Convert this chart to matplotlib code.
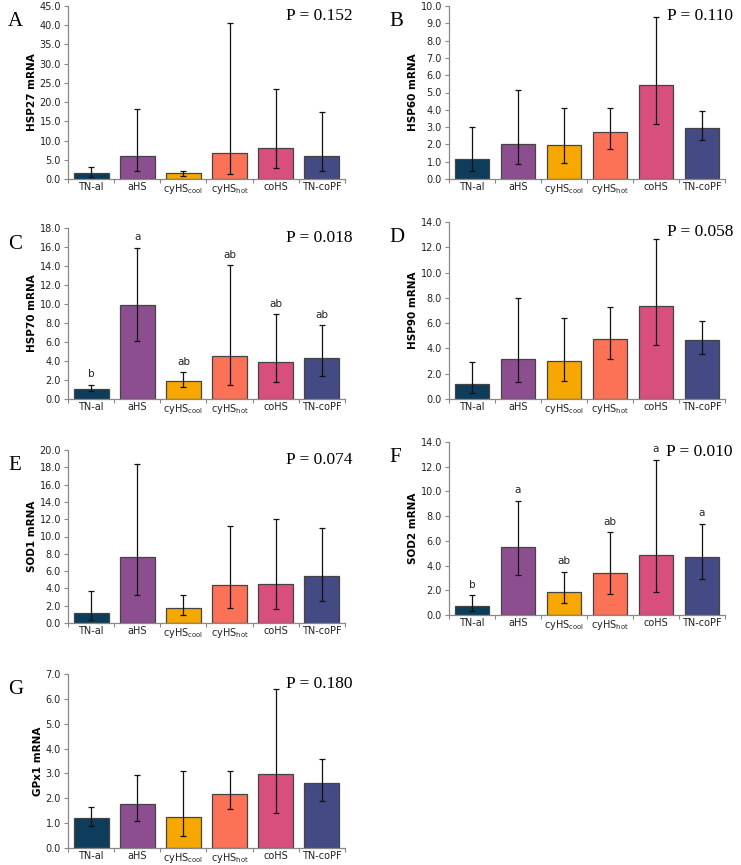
import matplotlib.pyplot as plt
import numpy as np

# groups and colours
groups = ['TN-al', 'aHS', r'cyHS$_{\mathregular{cool}}$', r'cyHS$_{\mathregular{hot}}$', 'coHS', 'TN-coPF']
colors = ['#0d3d5a', '#8d4e90', '#f6a700', '#fc7257', '#d84f7d', '#434a84']

# means, error bar lower ends, error bar upper ends
hsp27 = [1.6, 6.1, 1.5, 6.7, 8.0, 6.0]
hsp27_lo = [0.6, 2.0, 0.9, 1.2, 2.8, 2.0]
hsp27_hi = [3.0, 18.2, 2.2, 40.5, 23.3, 17.5]

hsp60 = [1.18, 2.04, 1.95, 2.70, 5.41, 2.97]
hsp60_lo = [0.46, 0.85, 0.92, 1.73, 3.16, 2.25]
hsp60_hi = [3.00, 5.16, 4.10, 4.10, 9.36, 3.93]

hsp70 = [1.08, 9.90, 1.89, 4.55, 3.92, 4.34]
hsp70_lo = [0.80, 6.15, 1.26, 1.43, 1.75, 2.38]
hsp70_hi = [1.47, 15.90, 2.80, 14.06, 8.90, 7.76]
hsp70_letters = ['b', 'a', 'ab', 'ab', 'ab', 'ab']

hsp90 = [1.16, 3.15, 3.02, 4.75, 7.33, 4.68]
hsp90_lo = [0.50, 1.31, 1.42, 3.15, 4.28, 3.57]
hsp90_hi = [2.92, 7.99, 6.41, 7.30, 12.63, 6.15]

sod1 = [1.16, 7.68, 1.74, 4.40, 4.48, 5.44]
sod1_lo = [0.30, 3.20, 0.97, 1.70, 1.62, 2.59]
sod1_hi = [3.70, 18.38, 3.24, 11.27, 11.97, 11.04]

sod2 = [0.73, 5.47, 1.83, 3.37, 4.87, 4.66]
sod2_lo = [0.30, 3.23, 0.97, 1.70, 1.88, 2.93]
sod2_hi = [1.59, 9.26, 3.50, 6.68, 12.57, 7.38]
sod2_letters = ['b', 'a', 'ab', 'ab', 'a', 'a']

gpx1 = [1.19, 1.77, 1.23, 2.18, 2.99, 2.61]
gpx1_lo = [0.87, 1.07, 0.47, 1.55, 1.41, 1.91]
gpx1_hi = [1.65, 2.92, 3.09, 3.09, 6.39, 3.57]

W, H = 741, 865
fig = plt.figure(figsize=(W / 100, H / 100), dpi=100)

# panel: (letter, ylabel, means, lo, hi, ymax, ystep, p, letters, axes box in px: left, top, right, bottom)
panels = [
    ('A', 'HSP27 mRNA', hsp27, hsp27_lo, hsp27_hi, 45, 5, '0.152', None, (68, 6, 345, 179)),
    ('B', 'HSP60 mRNA', hsp60, hsp60_lo, hsp60_hi, 10, 1, '0.110', None, (449, 6, 725, 179)),
    ('C', 'HSP70 mRNA', hsp70, hsp70_lo, hsp70_hi, 18, 2, '0.018', hsp70_letters, (68, 228, 345, 399)),
    ('D', 'HSP90 mRNA', hsp90, hsp90_lo, hsp90_hi, 14, 2, '0.058', None, (449, 222, 725, 399)),
    ('E', 'SOD1 mRNA', sod1, sod1_lo, sod1_hi, 20, 2, '0.074', None, (68, 450, 345, 623)),
    ('F', 'SOD2 mRNA', sod2, sod2_lo, sod2_hi, 14, 2, '0.010', sod2_letters, (449, 442, 725, 615)),
    ('G', 'GPx1 mRNA', gpx1, gpx1_lo, gpx1_hi, 7, 1, '0.180', None, (68, 674, 345, 848)),
]

x = np.arange(len(groups))
for letter, ylab, m, lo, hi, ymax, ystep, p, sig, box in panels:
    l, t, r, b = box
    ax = fig.add_axes([l / W, 1 - b / H, (r - l) / W, (b - t) / H])
    m = np.array(m)
    yerr = [m - np.array(lo), np.array(hi) - m]
    ax.bar(x, m, width=0.76, color=colors, edgecolor='#444444', linewidth=0.9, zorder=2)
    ax.errorbar(x, m, yerr=yerr, fmt='none', ecolor='#111111', elinewidth=0.9,
                capsize=2.2, capthick=0.9, zorder=3)
    ax.set_xlim(-0.5, len(groups) - 0.5)
    ax.set_ylim(0, ymax)
    ticks = np.arange(0, ymax + 0.01, ystep)
    ax.set_yticks(ticks)
    ax.set_yticklabels([f'{v:.1f}' for v in ticks])
    ax.set_xticks(x)
    ax.set_xticklabels(groups)
    ax.set_xticks(np.arange(-0.5, len(groups)), minor=True)
    ax.tick_params(axis='x', which='major', length=0, labelsize=7, pad=2.5, colors='#222222')
    ax.tick_params(axis='x', which='minor', length=3, width=0.8, color='#888888')
    ax.tick_params(axis='y', length=3, width=0.8, color='#888888', labelsize=7, pad=2, labelcolor='#222222')
    for s in ['top', 'right']:
        ax.spines[s].set_visible(False)
    for s in ['left', 'bottom']:
        ax.spines[s].set_color('#888888')
        ax.spines[s].set_linewidth(0.9)
    ax.set_ylabel(ylab, fontsize=7.5, fontweight='bold', labelpad=2)
    if sig is not None:
        for xi, h, s in zip(x, hi, sig):
            ax.annotate(s, (xi, h), xytext=(0, 4), textcoords='offset points',
                        ha='center', va='bottom', fontsize=7.5, color='#222222')
    fig.text((l - 60) / W, 1 - (t + 16) / H, letter, family='Liberation Serif',
             fontsize=15, ha='left', va='center')
    fig.text((r + 8) / W, 1 - (t + 10) / H, 'P = ' + p, family='Liberation Serif',
             fontsize=12.5, ha='right', va='center')

fig.savefig('out.png', dpi=100)
